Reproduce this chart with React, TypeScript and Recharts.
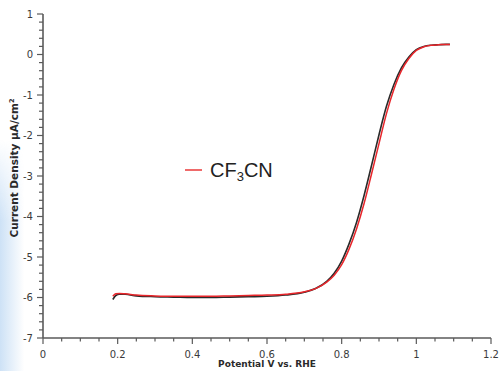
import { Line, LineChart, XAxis, YAxis } from "recharts";

// Linear sweep voltammetry, two runs on the same electrode
const potential = [
  0.187, 0.195, 0.205, 0.22, 0.25, 0.3, 0.35, 0.4, 0.45, 0.5, 0.55, 0.6, 0.65,
  0.7, 0.73, 0.76, 0.78, 0.8, 0.82, 0.84, 0.86, 0.88, 0.9, 0.92, 0.94, 0.96,
  0.98, 1.0, 1.02, 1.04, 1.06, 1.08, 1.09,
];
const currentBlack = [
  -6.05, -5.95, -5.92, -5.92, -5.96, -5.98, -5.99, -6.0, -6.0, -5.99, -5.98,
  -5.97, -5.94, -5.87, -5.78, -5.6, -5.4, -5.1, -4.67, -4.14, -3.48, -2.74,
  -1.98, -1.28, -0.74, -0.33, -0.06, 0.12, 0.2, 0.23, 0.24, 0.25, 0.25,
];
const currentCF3CN = [
  -5.97, -5.91, -5.9, -5.91, -5.94, -5.96, -5.97, -5.97, -5.97, -5.96, -5.95,
  -5.94, -5.92, -5.86, -5.78, -5.62, -5.45, -5.19, -4.8, -4.3, -3.68, -2.95,
  -2.2, -1.46, -0.86, -0.4, -0.1, 0.1, 0.19, 0.23, 0.24, 0.25, 0.25,
];

const xMajorTicks = [0, 0.2, 0.4, 0.6, 0.8, 1, 1.2];
const yMajorTicks = [-7, -6, -5, -4, -3, -2, -1, 0, 1];
const X_MINOR_STEP = 0.05;
const Y_MINOR_STEP = 0.2;

const round = (v: number) => Math.round(v * 1000) / 1000;
const xTicks = Array.from({ length: 25 }, (_, i) => round(i * X_MINOR_STEP));
const yTicks = Array.from({ length: 41 }, (_, i) => round(-7 + i * Y_MINOR_STEP));

const data = potential.map((p, i) => ({
  potential: p,
  black: currentBlack[i],
  cf3cn: currentCF3CN[i],
}));

const AXIS_COLOR = "#5a5a5a";
const TICK_FONT = "'DejaVu Sans', Verdana, sans-serif";

const isMajor = (v: number, list: number[]) =>
  list.some((m) => Math.abs(m - v) < 1e-6);

function XTick(props: any) {
  const { x, y, payload } = props;
  const major = isMajor(payload.value, xMajorTicks);
  return (
    <g>
      <line x1={x} x2={x} y1={y} y2={y + (major ? 6 : 3.5)} stroke={AXIS_COLOR} strokeWidth={1.2} />
      {major && (
        <text x={x} y={y + 20} textAnchor="middle" fontSize={10} fontFamily={TICK_FONT} fill="#3a3a3a">
          {payload.value}
        </text>
      )}
    </g>
  );
}

function YTick(props: any) {
  const { x, y, payload } = props;
  const major = isMajor(payload.value, yMajorTicks);
  return (
    <g>
      <line x1={x} x2={x - (major ? 6 : 4)} y1={y} y2={y} stroke={AXIS_COLOR} strokeWidth={1.2} />
      {major && (
        <text x={x - 10} y={y + 3.5} textAnchor="end" fontSize={10} fontFamily={TICK_FONT} fill="#3a3a3a">
          {payload.value}
        </text>
      )}
    </g>
  );
}

export default function App() {
  return (
    <div
      style={{
        position: "fixed",
        left: 0,
        top: 0,
        width: 504,
        height: 371,
        background: "#fff",
        overflow: "hidden",
      }}
    >
      {/* soft blue edge at the lower left */}
      <div
        style={{
          position: "absolute",
          left: 0,
          top: 140,
          width: 24,
          height: 231,
          background:
            "linear-gradient(to right, rgba(196,220,244,0.85), rgba(255,255,255,0))",
          WebkitMaskImage: "linear-gradient(to bottom, transparent, #000 35%)",
          maskImage: "linear-gradient(to bottom, transparent, #000 35%)",
        }}
      />
      <LineChart
        width={504}
        height={371}
        data={data}
        margin={{ top: 14, right: 13, bottom: 0, left: 0 }}
        style={{ position: "absolute", left: 0, top: 0 }}
      >
        <XAxis
          dataKey="potential"
          type="number"
          domain={[0, 1.2]}
          ticks={xTicks}
          interval={0}
          height={33}
          tickSize={0}
          tickMargin={0}
          tickLine={false}
          axisLine={{ stroke: AXIS_COLOR, strokeWidth: 1.6 }}
          tick={(p: any) => <XTick {...p} />}
        />
        <YAxis
          type="number"
          domain={[-7, 1]}
          ticks={yTicks}
          interval={0}
          width={43}
          tickSize={0}
          tickMargin={0}
          tickLine={false}
          axisLine={{ stroke: AXIS_COLOR, strokeWidth: 1.6 }}
          tick={(p: any) => <YTick {...p} />}
        />
        <Line
          type="monotone"
          dataKey="black"
          stroke="#2a2a2a"
          strokeWidth={1.6}
          dot={false}
          isAnimationActive={false}
        />
        <Line
          type="monotone"
          dataKey="cf3cn"
          stroke="#e8262b"
          strokeWidth={1.5}
          dot={false}
          isAnimationActive={false}
        />
      </LineChart>
      {/* axis titles */}
      <div
        style={{
          position: "absolute",
          left: 0,
          top: 359,
          width: 534,
          textAlign: "center",
          fontFamily: TICK_FONT,
          fontWeight: "bold",
          fontSize: 9,
          color: "#2a2a2a",
          whiteSpace: "nowrap",
        }}
      >
        Potential V vs. RHE
      </div>
      <div
        style={{
          position: "absolute",
          left: 14,
          top: 168,
          transform: "translate(-50%, -50%) rotate(-90deg)",
          fontFamily: TICK_FONT,
          fontWeight: "bold",
          fontSize: 10.5,
          color: "#2a2a2a",
          whiteSpace: "nowrap",
        }}
      >
        Current Density µA/cm<sup style={{ fontSize: 6.5 }}>2</sup>
      </div>
      {/* legend */}
      <div style={{ position: "absolute", left: 185, top: 169, width: 17, height: 1.5, background: "#ef6a6a" }} />
      <div
        style={{
          position: "absolute",
          left: 210,
          top: 158,
          fontFamily: "'Liberation Sans', Arial, sans-serif",
          fontSize: 20,
          lineHeight: "24px",
          color: "#222",
          whiteSpace: "nowrap",
        }}
      >
        CF<sub style={{ fontSize: 13, verticalAlign: "-4px" }}>3</sub>CN
      </div>
    </div>
  );
}
